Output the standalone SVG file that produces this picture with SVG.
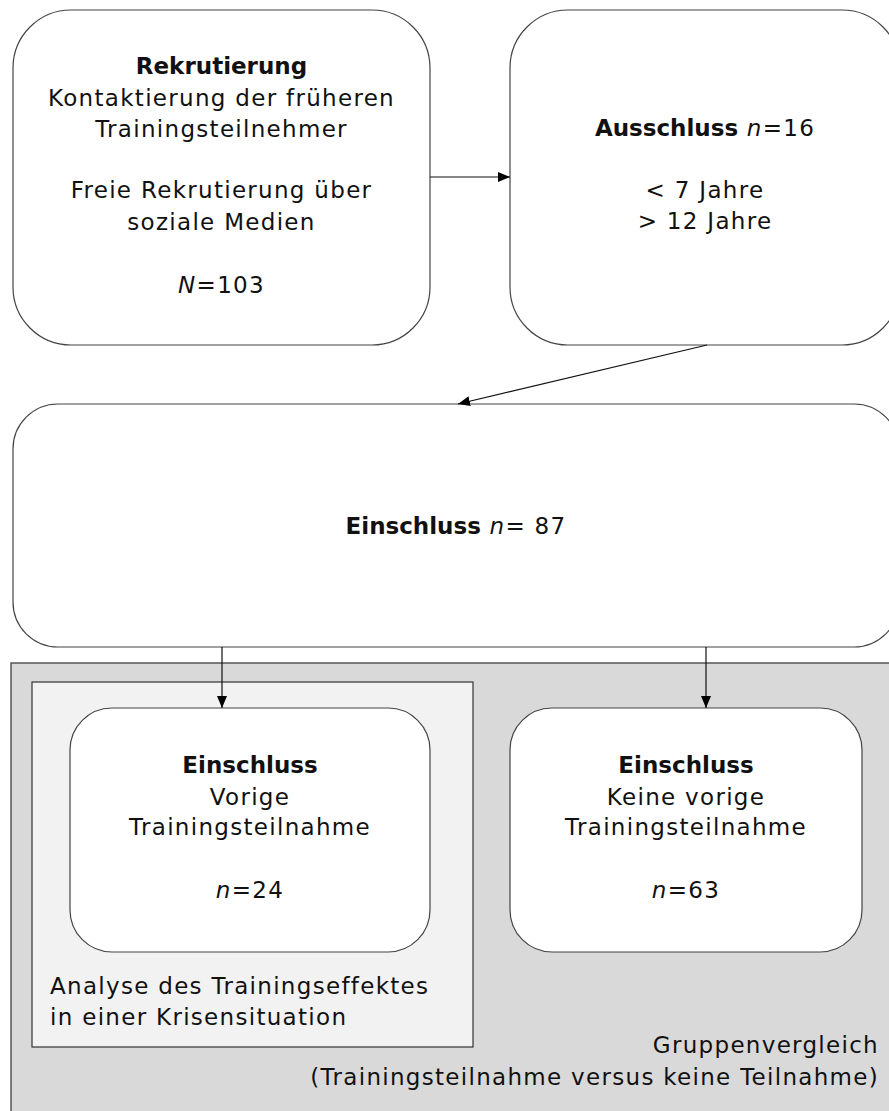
<svg xmlns="http://www.w3.org/2000/svg" width="889" height="1111" viewBox="0 0 889 1111">
  <style>
    text { font-family: "DejaVu Sans", "Noto Sans", sans-serif; font-size: 23px; letter-spacing: 1.3px; fill: #111; }
    .c { text-anchor: middle; }
    .r { text-anchor: end; }
    .b { font-weight: bold; letter-spacing: 0; }
    .i { font-style: italic; }
    .node { fill: #fff; stroke: #444; stroke-width: 1.2; }
    .edge { stroke: #111; stroke-width: 1.2; fill: none; marker-end: url(#arrow); }
  </style>
  <defs>
    <marker id="arrow" viewBox="0 0 12 10" refX="12" refY="5" markerWidth="12" markerHeight="10" markerUnits="userSpaceOnUse" orient="auto">
      <path d="M0,0 L12,5 L0,10 Z" fill="#000"/>
    </marker>
  </defs>

  <!-- background regions -->
  <g id="group-comparison">
    <rect x="11" y="663" width="890" height="460" fill="#d9d9d9" stroke="#555" stroke-width="1.5"/>
    <text class="r" x="879" y="1053">Gruppenvergleich</text>
    <text class="r" x="879" y="1085">(Trainingsteilnahme versus keine Teilnahme)</text>
  </g>
  <g id="training-effect">
    <rect x="32" y="682" width="441" height="365" fill="#f2f2f2" stroke="#333" stroke-width="1.2"/>
    <text x="50" y="994">Analyse des Trainingseffektes</text>
    <text x="50" y="1025">in einer Krisensituation</text>
  </g>

  <g id="recruitment">
    <rect class="node" x="13" y="10" width="417" height="335" rx="58" ry="58"/>
    <text class="c" x="221.5" y="74"><tspan class="b">Rekrutierung</tspan></text>
    <text class="c" x="221.5" y="106">Kontaktierung der früheren</text>
    <text class="c" x="221.5" y="137">Trainingsteilnehmer</text>
    <text class="c" x="221.5" y="198">Freie Rekrutierung über</text>
    <text class="c" x="221.5" y="230">soziale Medien</text>
    <text class="c" x="221.5" y="293"><tspan class="i">N</tspan>=103</text>
  </g>

  <g id="exclusion">
    <rect class="node" x="510" y="10" width="390" height="335" rx="58" ry="58"/>
    <text class="c" x="705" y="136"><tspan class="b">Ausschluss</tspan> <tspan class="i">n</tspan>=16</text>
    <text class="c" x="705" y="198">&lt; 7 Jahre</text>
    <text class="c" x="705" y="229">&gt; 12 Jahre</text>
  </g>

  <g id="inclusion">
    <rect class="node" x="13" y="404" width="886" height="243" rx="45" ry="45"/>
    <text class="c" x="456" y="534"><tspan class="b">Einschluss</tspan> <tspan class="i">n</tspan>= 87</text>
  </g>

  <g id="prior-training">
    <rect class="node" x="70" y="708" width="360" height="244" rx="42" ry="42"/>
    <text class="c" x="250" y="773"><tspan class="b">Einschluss</tspan></text>
    <text class="c" x="250" y="805">Vorige</text>
    <text class="c" x="250" y="835">Trainingsteilnahme</text>
    <text class="c" x="250" y="898"><tspan class="i">n</tspan>=24</text>
  </g>

  <g id="no-prior-training">
    <rect class="node" x="510" y="708" width="352" height="244" rx="42" ry="42"/>
    <text class="c" x="686" y="773"><tspan class="b">Einschluss</tspan></text>
    <text class="c" x="686" y="805">Keine vorige</text>
    <text class="c" x="686" y="835">Trainingsteilnahme</text>
    <text class="c" x="686" y="898"><tspan class="i">n</tspan>=63</text>
  </g>

  <g id="connectors">
    <line class="edge" x1="430" y1="177" x2="510" y2="177"/>
    <line class="edge" x1="707" y1="345" x2="458" y2="404"/>
    <line class="edge" x1="222" y1="647" x2="222" y2="708"/>
    <line class="edge" x1="706" y1="647" x2="706" y2="708"/>
  </g>
</svg>
